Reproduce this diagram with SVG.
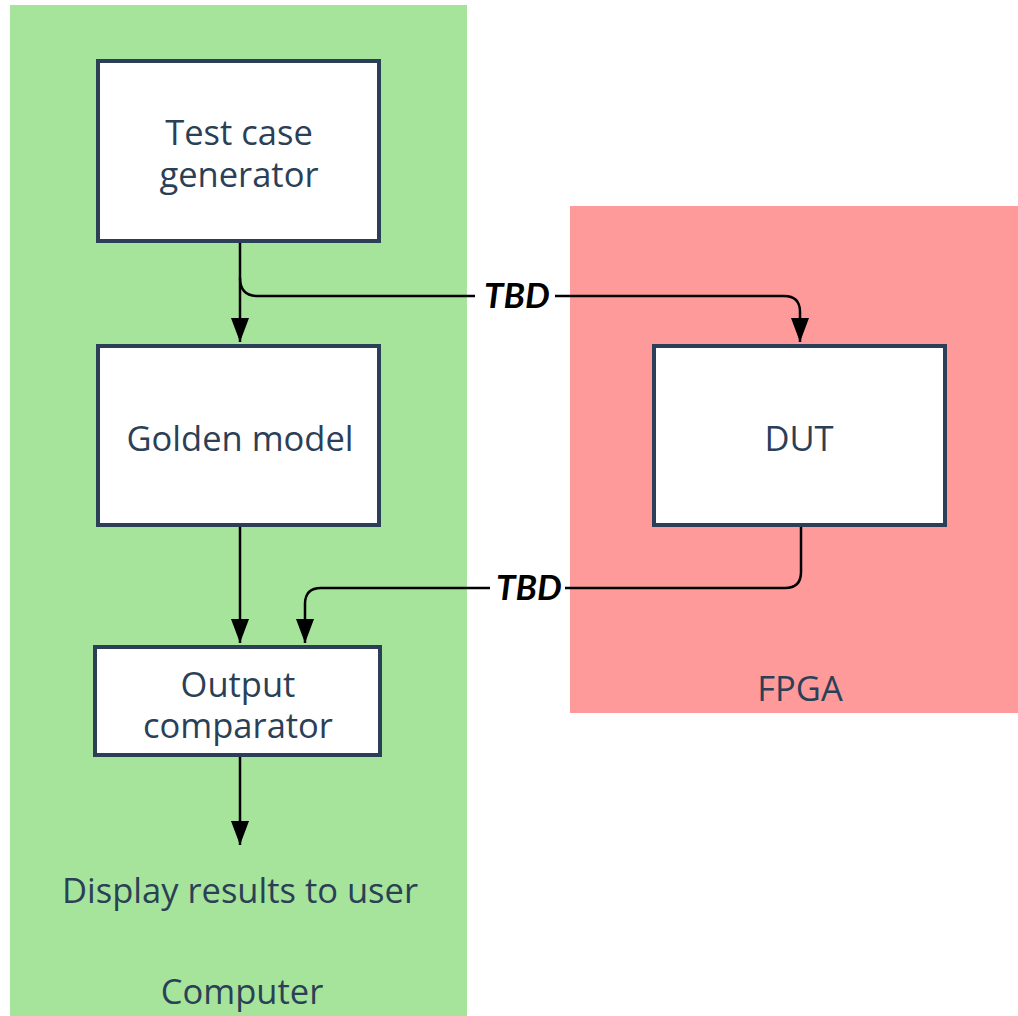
<svg xmlns="http://www.w3.org/2000/svg" width="1018" height="1016" viewBox="0 0 1018 1016">
<style>
.node rect{fill:#ffffff;stroke:#2b3f57;stroke-width:4}
.t{font-family:"Open Sans",Lato,sans-serif;font-size:34.5px;fill:#2b3f57;text-anchor:middle}
.c{fill:none;stroke:#000;stroke-width:2.5}
.lbl{font-family:Lato,"Liberation Sans",sans-serif;font-size:35px;font-weight:bold;font-style:italic;fill:#000;text-anchor:middle}
</style>
<defs>
<marker id="ah" markerUnits="userSpaceOnUse" markerWidth="26" markerHeight="20" refX="24" refY="9" orient="auto" viewBox="0 0 26 20">
<path d="M0,0 L24,9 L0,18 z" fill="#000"/>
</marker>
</defs>
<rect width="1018" height="1016" fill="#ffffff"/>
<g id="computer">
<rect x="10" y="5" width="457" height="1011" fill="#a5e49a"/>
<text class="t" x="242" y="1004">Computer</text>
</g>
<g id="fpga">
<rect x="570" y="206" width="448" height="507" fill="#fe9a9a"/>
<text class="t" x="800" y="701">FPGA</text>
</g>
<g id="connectors">
<path class="c" d="M240,243 L240,342" marker-end="url(#ah)"/>
<path class="c" d="M240,278 Q240,296 258,296 L475,296"/>
<path class="c" d="M555,296 L784,296 Q800,296 800,312 L800,342" marker-end="url(#ah)"/>
<text class="lbl" x="517" y="308">TBD</text>
<path class="c" d="M240,527 L240,643" marker-end="url(#ah)"/>
<path class="c" d="M801,527 L801,572 Q801,588 785,588 L565,588"/>
<path class="c" d="M490,588 L321,588 Q305,588 305,604 L305,643" marker-end="url(#ah)"/>
<text class="lbl" x="529" y="600">TBD</text>
<path class="c" d="M240,757 L240,845" marker-end="url(#ah)"/>
</g>
<g id="tcg" class="node">
<rect x="98" y="61" width="281" height="180"/>
<text class="t" x="239" y="145">Test case</text>
<text class="t" x="239" y="187">generator</text>
</g>
<g id="golden" class="node">
<rect x="98" y="346" width="281" height="179"/>
<text class="t" x="240" y="451">Golden model</text>
</g>
<g id="dut" class="node">
<rect x="654" y="346" width="291" height="179"/>
<text class="t" x="799" y="451">DUT</text>
</g>
<g id="comparator" class="node">
<rect x="95" y="647" width="285" height="108"/>
<text class="t" x="238" y="697">Output</text>
<text class="t" x="238" y="738">comparator</text>
</g>
<g id="display">
<text class="t" x="240" y="903">Display results to user</text>
</g>
</svg>
